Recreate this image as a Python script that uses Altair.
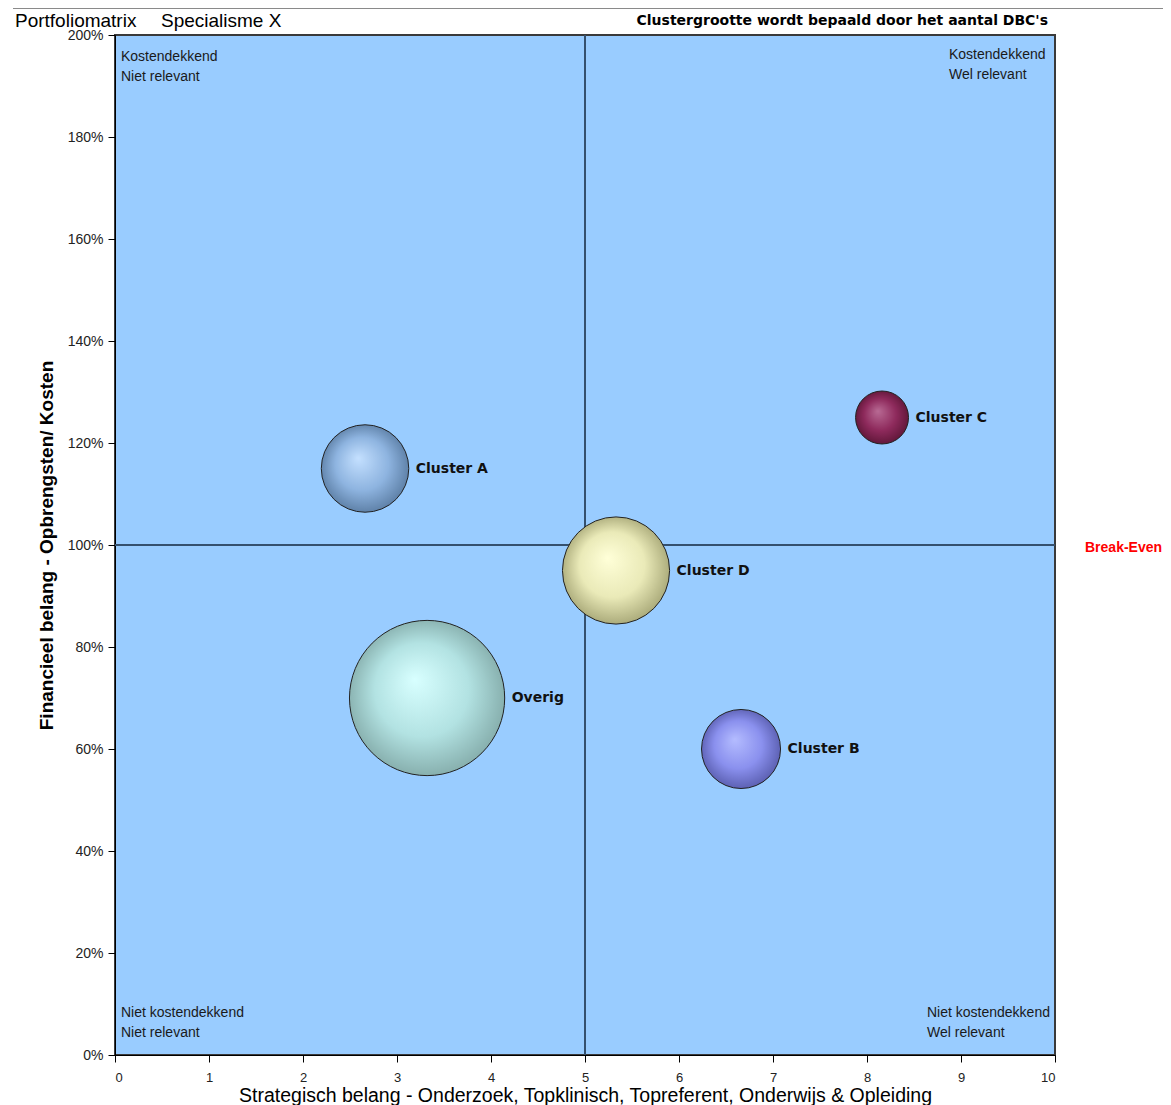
import math
import altair as alt
import pandas as pd

# ---- data ----
clusters = ["Cluster A", "Cluster B", "Cluster C", "Cluster D", "Overig"]
strategisch = [2.66, 6.66, 8.16, 5.33, 3.32]
financieel = [115, 60, 125, 95, 70]
dbc = [600, 490, 220, 900, 1890]
light = ["#C4E0FF", "#B4BCFF", "#B86A94", "#FFFFD8", "#D8FFFF"]
mid = ["#8EB4E0", "#8A90EE", "#8E2A5C", "#EAEAB8", "#B2E2E2"]
dark = ["#56789E", "#5458A8", "#5A1434", "#A0A070", "#7FA6A4"]

x_ticks = list(range(0, 11))
y_ticks = list(range(0, 201, 20))

df = pd.DataFrame({"name": clusters, "x": strategisch, "y": financieel, "dbc": dbc})

W, H = 940, 1020
SIZE_DOMAIN = [0, 2000]
SIZE_RANGE = [0, 25500]

NARROW = "Liberation Sans Narrow, Arial Narrow, Liberation Sans, Arial"
SANS = "Liberation Sans, Arial"
TAHOMA = "DejaVu Sans, Verdana"

xscale = alt.Scale(domain=[0, 10], nice=False, zero=False)
yscale = alt.Scale(domain=[0, 200], nice=False, zero=False)

xaxis = alt.Axis(values=x_ticks, format="d",
                 title="Strategisch belang - Onderzoek, Topklinisch, Topreferent, Onderwijs & Opleiding",
                 titleFont=SANS, titleFontSize=19.5, titleFontWeight="normal", titleColor="#000",
                 titleX=W / 2, titleY=46, titleAlign="center", titleBaseline="alphabetic",
                 labelFont=NARROW, labelFontSize=13, labelColor="#222",
                 labelPadding=9, tickSize=7, tickColor="#000", domainColor="#000", grid=False)
yaxis = alt.Axis(values=y_ticks, title="Financieel belang - Opbrengsten/ Kosten",
                 labelExpr="datum.value + '%'",
                 titleFont=SANS, titleFontSize=19, titleFontWeight="bold", titleColor="#000",
                 titleX=-69, titleY=H / 2, titleAngle=-90, titleAlign="center", titleBaseline="middle",
                 labelFont=NARROW, labelFontSize=14, labelColor="#222", labelPadding=5,
                 tickSize=7, tickColor="#000", domainColor="#000", grid=False)

base = alt.Chart(df)

# axes carrier (invisible points)
axes = base.mark_point(opacity=0).encode(
    x=alt.X("x:Q", scale=xscale, axis=xaxis),
    y=alt.Y("y:Q", scale=yscale, axis=yaxis),
)

# quadrant lines
vline = alt.Chart(pd.DataFrame({"x": [5]})).mark_rule(color="#34506E", strokeWidth=2).encode(
    x=alt.X("x:Q", scale=xscale))
hline = alt.Chart(pd.DataFrame({"y": [100]})).mark_rule(color="#34506E", strokeWidth=2).encode(
    y=alt.Y("y:Q", scale=yscale))

layers = [axes, vline, hline]

for i, name in enumerate(clusters):
    grad = {
        "gradient": "radial",
        "x1": 0.42, "y1": 0.38, "r1": 0.0,
        "x2": 0.5, "y2": 0.5, "r2": 0.55,
        "stops": [
            {"offset": 0.0, "color": light[i]},
            {"offset": 0.55, "color": mid[i]},
            {"offset": 1.0, "color": dark[i]},
        ],
    }
    sub = base.transform_filter(alt.datum.name == name)
    bubble = sub.mark_point(shape="circle", filled=True, fill=grad, stroke="#222222",
                            strokeWidth=1, opacity=1, fillOpacity=1, strokeOpacity=1).encode(
        x=alt.X("x:Q", scale=xscale),
        y=alt.Y("y:Q", scale=yscale),
        size=alt.Size("dbc:Q", scale=alt.Scale(domain=SIZE_DOMAIN, range=SIZE_RANGE), legend=None),
    )
    size_px = dbc[i] * SIZE_RANGE[1] / SIZE_DOMAIN[1]
    r = math.sqrt(size_px) / 2
    label = sub.mark_text(align="left", baseline="middle", dx=r + 7, font=TAHOMA,
                          fontSize=14, fontWeight="bold", color="#111").encode(
        x=alt.X("x:Q", scale=xscale),
        y=alt.Y("y:Q", scale=yscale),
        text="name:N",
    )
    layers += [bubble, label]


def txt(s, x, y, **kw):
    return alt.Chart(pd.DataFrame({"t": [s]})).mark_text(**kw).encode(
        x=alt.value(x), y=alt.value(y), text="t:N")


corner_kw = dict(align="left", baseline="alphabetic", font=NARROW, fontSize=14, color="#1a1a1a",
                 lineBreak="\n", lineHeight=20)
layers += [
    txt("Kostendekkend\nNiet relevant", 6, 26, **corner_kw),
    txt("Kostendekkend\nWel relevant", 834, 24, **corner_kw),
    txt("Niet kostendekkend\nNiet relevant", 6, 982, **corner_kw),
    txt("Niet kostendekkend\nWel relevant", 812, 982, **corner_kw),
    txt("Portfoliomatrix", -100, -14, align="left", font=SANS, fontSize=19, color="#000"),
    txt("Specialisme X", 46, -14, align="left", font=SANS, fontSize=19, color="#000"),
    txt("Clustergrootte wordt bepaald door het aantal DBC's", 933, -14, align="right",
        font=TAHOMA, fontSize=14, fontWeight="bold", color="#000"),
]

# break-even label
be = alt.Chart(pd.DataFrame({"y": [100], "t": ["Break-Even"]})).mark_text(
    align="left", baseline="middle", font=NARROW, fontSize=14, fontWeight="bold", color="#FF0000",
    dy=3).encode(x=alt.value(970), y=alt.Y("y:Q", scale=yscale), text="t:N")
layers.append(be)

# top thin line
topline = alt.Chart(pd.DataFrame({"a": [0]})).mark_rule(color="#8a8a8a", strokeWidth=1).encode(
    x=alt.value(-102), x2=alt.value(1060), y=alt.value(-26.5))
layers.append(topline)

chart = alt.layer(*layers).properties(
    width=W, height=H,
    autosize=alt.AutoSizeParams(type="none"),
    padding={"left": 107, "top": 27, "right": 108, "bottom": 52},
    background="white",
).configure_view(
    fill="#99CCFF", stroke="#3a3a3a", strokeWidth=2
)

chart.save("out.html", embed_options={"renderer": "svg", "actions": False})
